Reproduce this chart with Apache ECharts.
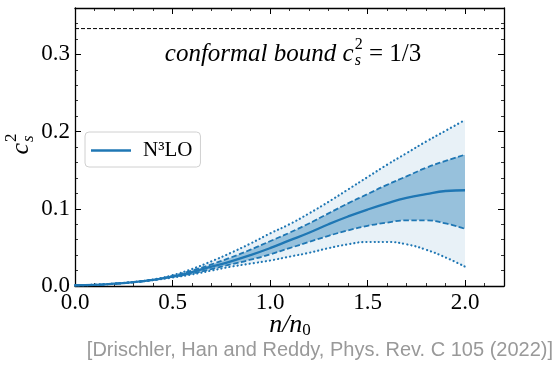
<!DOCTYPE html>
<html><head><meta charset="utf-8">
<script src="https://cdn.jsdelivr.net/npm/echarts@6/dist/echarts.min.js"></script>
<style>html,body{margin:0;padding:0;background:#fff}#c{width:556px;height:369px}</style>
</head><body><div id="c"></div>
<script>
// ---- data ----
const density = [0,0.1,0.2,0.3,0.4,0.5,0.6,0.7,0.8,0.9,1.0,1.1,1.2,1.3,1.4,1.5,1.6,1.7,1.8,1.9,2.0];
const central = [0.001,0.0015,0.003,0.005,0.008,0.012,0.018,0.025,0.032,0.040,0.049,0.059,0.069,0.080,0.090,0.099,0.107,0.114,0.119,0.123,0.124];
const dashedUpper = [0.001,0.0015,0.003,0.005,0.008,0.013,0.020,0.028,0.037,0.047,0.058,0.069,0.081,0.094,0.107,0.119,0.131,0.142,0.153,0.162,0.170];
const dashedLower = [0.001,0.0015,0.003,0.005,0.008,0.012,0.016,0.022,0.028,0.034,0.041,0.049,0.057,0.065,0.072,0.078,0.082,0.085,0.085,0.081,0.074];
const dottedUpper = [0.001,0.0015,0.003,0.005,0.0085,0.014,0.022,0.032,0.043,0.055,0.068,0.080,0.094,0.109,0.125,0.141,0.157,0.172,0.187,0.201,0.215];
const dottedLower = [0.001,0.0015,0.003,0.005,0.0075,0.011,0.015,0.020,0.025,0.029,0.033,0.038,0.043,0.049,0.054,0.057,0.057,0.054,0.047,0.037,0.025];
const conformalBound = 1/3;
const xRange = [0, 2.2];
const yRange = [0, 0.36];
const seriesName = 'N³LO';
const citation = '[Drischler, Han and Reddy, Phys. Rev. C 105 (2022)]';

// ---- helpers ----
const pairs = (ys) => density.map((x,i)=>[x, ys[i]]);
// [y, x] ordering so that ECharts stacks the y dimension
const stackPairs = (ys) => density.map((x,i)=>[ys[i], x]);
const stackDiff = (a,b) => density.map((x,i)=>[+(a[i]-b[i]).toFixed(5), x]);
const BLUE = '#1f77b4';
const SERIF = '"Liberation Serif", "DejaVu Serif", serif';
const cv = document.createElement('canvas').getContext('2d');
function measure(t, font){ cv.font = font; return cv.measureText(t).width; }
function inline(x0, yMid, parts, fill){
  const els = []; let x = x0; let sStart = null, sEnd = x0;
  parts.forEach(p=>{
    const w = measure(p.t, p.font);
    let px;
    if (p.mode === 'sup' || p.mode === 'sub') {
      if (sStart === null) { sStart = x + (p.kx||0); sEnd = sStart; }
      px = sStart + (p.mode==='sub' ? (p.kx2||0) : 0);
      sEnd = Math.max(sEnd, px + w);
    } else {
      if (sStart !== null) { x = sEnd; sStart = null; }
      px = x; x = px + w;
    }
    els.push({type:'text', x:px, y:yMid + (p.dy||0), silent:true,
      style:{text:p.t, font:p.font, fill:fill||'#000', verticalAlign:'middle', align:'left'}});
  });
  if (sStart !== null) x = sEnd;
  return {els, width: x - x0};
}
function totalWidth(parts){ return inline(0,0,parts).width; }

const itF = 'italic 25px ' + SERIF;
const rmF = '25px ' + SERIF;
const scF = '16px ' + SERIF;
const scIt = 'italic 16px ' + SERIF;

const confParts = [
  {t:'conformal bound ', font:itF},
  {t:'c', font:itF},
  {t:'2', font:scF, mode:'sup', dy:-9, kx:1},
  {t:'s', font:scIt, mode:'sub', dy:7, kx:1},
  {t:' = 1/3', font:rmF}
];
const confW = totalWidth(confParts);
const conf = inline(293 - confW/2, 54, confParts);

const ylParts = [
  {t:'c', font:'italic 26px ' + SERIF},
  {t:'2', font:'17px ' + SERIF, mode:'sup', dy:-9, kx:1},
  {t:'s', font:'italic 17px ' + SERIF, mode:'sub', dy:8, kx:1}
];
const ylW = totalWidth(ylParts);
const yl = inline(-ylW/2, 0, ylParts);

const xlParts = [
  {t:'n/n', font:'italic 26px ' + SERIF},
  {t:'0', font:'17px ' + SERIF, mode:'sub', dy:6, kx:0}
];
const xlW = totalWidth(xlParts);
const xl = inline(290 - xlW/2, 325, xlParts);

function axisBase(pos, show){
  return {
    type:'value', position:pos, splitLine:{show:false},
    axisLine:{show:true, onZero:false, lineStyle:{color:'#000', width:1.3}},
    axisTick:{show:true, inside:true, length:6, lineStyle:{color:'#000', width:1}},
    minorTick:{show:true, splitNumber:5, length:3, lineStyle:{color:'#000', width:0.8}},
    axisLabel:{show:show, formatter:v=>v.toFixed(1), showMaxLabel:false,
      color:'#000', fontFamily:SERIF, fontSize:23, margin:5}
  };
}
const xA = (pos,show)=>Object.assign(axisBase(pos,show), {min:xRange[0], max:xRange[1], interval:0.5});
const yA = (pos,show)=>Object.assign(axisBase(pos,show), {min:yRange[0], max:yRange[1], interval:0.1});

const bandBase = {type:'line', encode:{x:1, y:0}, symbol:'none', smooth:true, silent:true,
  lineStyle:{opacity:0}};
const chart = echarts.init(document.getElementById('c'), null, {renderer:'canvas'});
chart.setOption({
  animation:false,
  grid:{left:75, right:52, top:8, bottom:83},
  xAxis:[xA('bottom', true), xA('top', false)],
  yAxis:[yA('left', true), yA('right', false)],
  legend:{data:[{name:seriesName, icon:'rect'}], left:85, top:132, orient:'vertical',
    backgroundColor:'#fff', borderColor:'#d0d0d0', borderWidth:1, borderRadius:4,
    padding:[8,8,6,6], itemWidth:40, itemHeight:2.5,
    textStyle:{fontFamily:SERIF, fontSize:21, color:'#000', padding:[0,0,0,7], lineHeight:16}},
  series:[
    Object.assign({}, bandBase, {data:stackPairs(dottedLower), stack:'outer'}),
    Object.assign({}, bandBase, {data:stackDiff(dottedUpper, dottedLower), stack:'outer',
      areaStyle:{color:'rgba(31,119,180,0.1)', opacity:1}}),
    Object.assign({}, bandBase, {data:stackPairs(dashedLower), stack:'inner'}),
    Object.assign({}, bandBase, {data:stackDiff(dashedUpper, dashedLower), stack:'inner',
      areaStyle:{color:'rgba(31,119,180,0.4)', opacity:1}}),
    {type:'line', data:pairs(dottedUpper), symbol:'none', smooth:true, silent:true,
      lineStyle:{color:BLUE, width:2.2, type:[0.1,4], cap:'round'}},
    {type:'line', data:pairs(dottedLower), symbol:'none', smooth:true, silent:true,
      lineStyle:{color:BLUE, width:2.2, type:[0.1,4], cap:'round'}},
    {type:'line', data:pairs(dashedUpper), symbol:'none', smooth:true, silent:true,
      lineStyle:{color:BLUE, width:1.8, type:[5.5,2.5]}},
    {type:'line', data:pairs(dashedLower), symbol:'none', smooth:true, silent:true,
      lineStyle:{color:BLUE, width:1.8, type:[5.5,2.5]}},
    {type:'line', name:seriesName, data:pairs(central), symbol:'none', smooth:true, silent:true,
      itemStyle:{color:BLUE}, lineStyle:{color:BLUE, width:2.3}},
    {type:'line', data:[[xRange[0], conformalBound],[xRange[1], conformalBound]], symbol:'none', silent:true,
      lineStyle:{color:'#000', width:1, type:[4,2]}}
  ],
  graphic:[
    ...conf.els,
    ...xl.els,
    {type:'group', x:21, y:144, rotation:Math.PI/2, children: yl.els},
    {type:'text', right:3, top:340, silent:true,
      style:{text:citation, font:'20px "Liberation Sans", Arial, sans-serif', fill:'#999999'}}
  ]
});
</script></body></html>
